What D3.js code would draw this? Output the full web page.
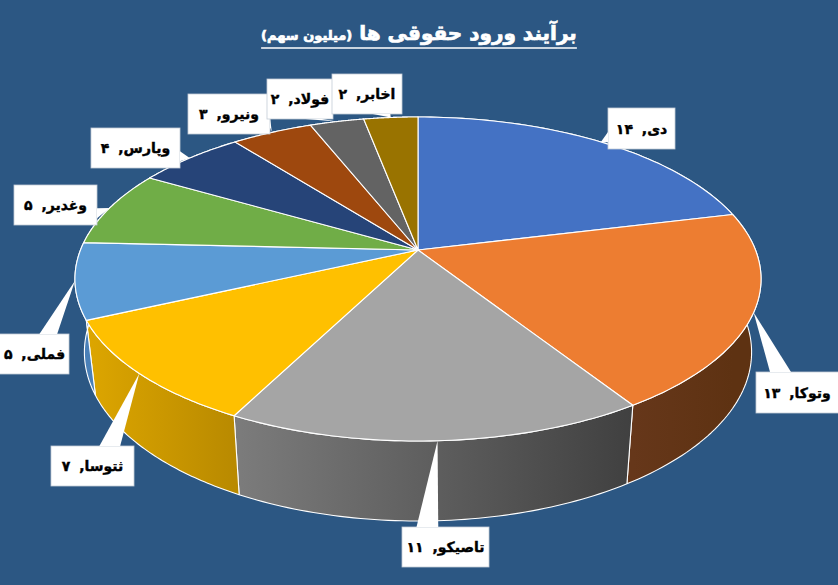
<!DOCTYPE html>
<html lang="fa">
<head>
<meta charset="utf-8">
<style>
html,body{margin:0;padding:0;background:#2C5783;overflow:hidden}
svg{display:block}
text{font-family:"DejaVu Sans",sans-serif;font-weight:bold}
</style>
<script src="https://cdnjs.cloudflare.com/ajax/libs/d3/7.8.5/d3.min.js"></script>
</head>
<body>
<svg id="chart" width="838" height="585"></svg>
<script>
const categories = ["دی","وتوکا","تاصیکو","ثتوسا","فملی","وغدیر","وپارس","ونیرو","فولاد","اخابر"];
const values = [14,13,11,7,5,5,4,3,2,2];
const topColors = ["#4472C4","#ED7D31","#A5A5A5","#FFC000","#5B9BD5","#70AD47","#264478","#9E480E","#636363","#997300"];
const wallLeftColors = ["#2F5597","#66371A","#7C7C7C","#DDA600","#4A80B8","#548235","#1C3359","#763608","#4A4A4A","#725600"];
const wallRightColors = ["#2F5597","#5E3212","#404040","#B98A00","#4A80B8","#548235","#1C3359","#763608","#4A4A4A","#725600"];
const titleMain = "برآیند ورود حقوقی ها ";
const titleUnit = "(میلیون سهم)";
// label box placement: x, y, width, height
const labelBoxes = [
  [608,108,67,41],[756,372,84,41],[402,527,87,40],[51,446,83,40],[-2,334,71,40],
  [14,185,83,40],[91,128,89,40],[188,94,82,40],[267,79,66,40],[332,74,70,40]
];

const persian = n => String(n).replace(/\d/g, d => "۰۱۲۳۴۵۶۷۸۹"[d]);
const svg = d3.select("#chart");
const cx = 418, cy = 250, ax = 337.5, by = 156.8, k = 0.179;

// perspective projection of the pie's unit circle
const project = (angle, r = 1) => {
  const u = r * Math.sin(angle), v = -r * Math.cos(angle), w = 1 - k * v;
  return [cx + ax * u / w, cy + by * v / w];
};
const wallX = d3.scaleLinear().domain([cx, cx + 100]).range([cx, cx + 97.25]);
const wallY = d3.scaleLinear().domain([cy, cy + 100]).range([cy + 72, cy + 176.2]);
const projectBottom = angle => {
  const [x, y] = project(angle);
  return [wallX(x), wallY(y)];
};

const slices = d3.pie().sort(null).value(d => d)(values);
const arcSteps = s => d3.range(0, 61).map(i => s.startAngle + (s.endAngle - s.startAngle) * i / 60);
const line = d3.line();

const defs = svg.append("defs");
slices.forEach((s, i) => {
  const g = defs.append("linearGradient").attr("id", "wall" + i)
    .attr("gradientUnits", "userSpaceOnUse")
    .attr("x1", Math.min(project(s.startAngle)[0], project(s.endAngle)[0])).attr("y1", 0)
    .attr("x2", Math.max(project(s.startAngle)[0], project(s.endAngle)[0])).attr("y2", 0);
  g.append("stop").attr("offset", 0).attr("stop-color", wallLeftColors[i]);
  g.append("stop").attr("offset", 1).attr("stop-color", wallRightColors[i]);
});

// side walls
svg.append("g").selectAll("path").data(slices).join("path")
  .attr("d", s => {
    const a = arcSteps(s);
    return line([...a.map(t => project(t)), ...a.slice().reverse().map(projectBottom)]) + "Z";
  })
  .attr("fill", (s, i) => `url(#wall${i})`)
  .attr("stroke", "#fff").attr("stroke-width", 1.1).attr("stroke-linejoin", "round");

// top faces
svg.append("g").selectAll("path").data(slices).join("path")
  .attr("d", s => line([[cx, cy], ...arcSteps(s).map(t => project(t))]) + "Z")
  .attr("fill", (s, i) => topColors[i])
  .attr("stroke", "#fff").attr("stroke-width", 1.1).attr("stroke-linejoin", "round");

// callout labels: wedge base follows the rectangular-callout rule
const wedge = (box, tip) => {
  const [x, y, w, h] = box;
  const dx = (tip[0] - (x + w / 2)) / w, dy = (tip[1] - (y + h / 2)) / h;
  if (Math.abs(dy) > Math.abs(dx)) {
    const f = dx > 0 ? [7 / 12, 10 / 12] : [2 / 12, 5 / 12];
    const yy = dy > 0 ? y + h : y;
    return [tip, [x + w * f[0], yy], [x + w * f[1], yy]];
  }
  const f = dy > 0 ? [7 / 12, 10 / 12] : [2 / 12, 5 / 12];
  const xx = dx > 0 ? x + w : x;
  return [tip, [xx, y + h * f[0]], [xx, y + h * f[1]]];
};

const labels = svg.append("g").selectAll("g").data(slices).join("g");
labels.each(function (s, i) {
  const box = labelBoxes[i];
  const tip = project((s.startAngle + s.endAngle) / 2);
  const g = d3.select(this);
  g.append("rect").attr("x", box[0]).attr("y", box[1]).attr("width", box[2]).attr("height", box[3])
    .attr("fill", "#fff").attr("stroke", "#c4ccd6").attr("stroke-width", 0.8);
  g.append("path").attr("d", line(wedge(box, tip)) + "Z").attr("fill", "#fff");
  const visibleLeft = Math.max(box[0], 0), visibleRight = Math.min(box[0] + box[2], 838);
  g.append("text")
    .attr("x", (visibleLeft + visibleRight) / 2).attr("y", box[1] + box[3] / 2 + 5)
    .attr("text-anchor", "middle").attr("direction", "rtl")
    .attr("font-size", 14).attr("fill", "#000")
    .attr("word-spacing", 4)
    .attr("stroke", "#000").attr("stroke-width", 0.4)
    .text(`${categories[i]}, ${persian(s.value)}`);
});

// title
const title = svg.append("text").attr("x", 419).attr("y", 40)
  .attr("text-anchor", "middle").attr("direction", "rtl")
  .attr("fill", "#fff").attr("stroke", "#fff").attr("stroke-width", 0.7);
title.append("tspan").attr("font-size", 20).text(titleMain);
title.append("tspan").attr("font-size", 13).text(titleUnit);
const titleWidth = title.node().getComputedTextLength();
svg.append("line")
  .attr("x1", 419 - titleWidth / 2).attr("x2", 419 + titleWidth / 2)
  .attr("y1", 48).attr("y2", 48)
  .attr("stroke", "#fff").attr("stroke-width", 1.5);
</script>
</body>
</html>
